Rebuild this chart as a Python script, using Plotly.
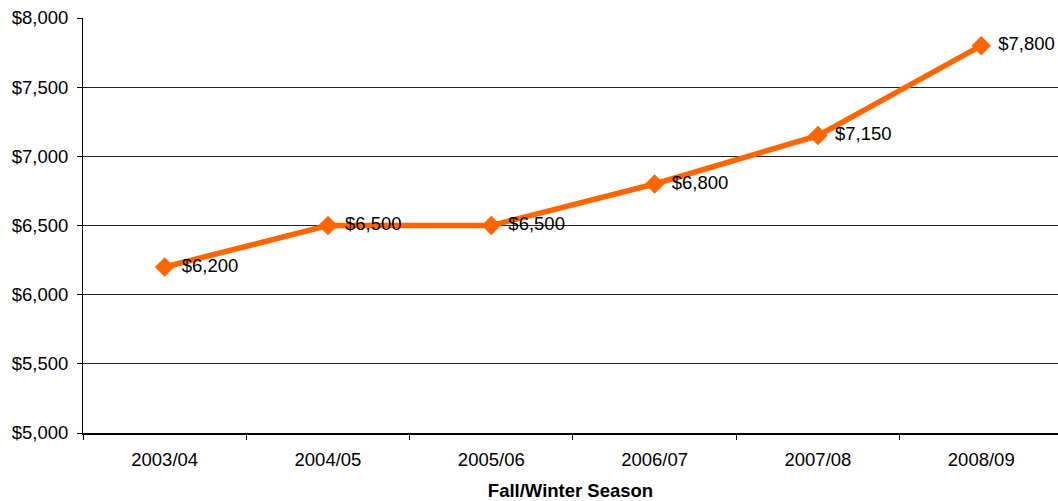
import plotly.graph_objects as go

seasons = ["2003/04", "2004/05", "2005/06", "2006/07", "2007/08", "2008/09"]
values = [6200, 6500, 6500, 6800, 7150, 7800]
labels = ["$6,200", "$6,500", "$6,500", "$6,800", "$7,150", "$7,800"]
y_ticks = [5000, 5500, 6000, 6500, 7000, 7500, 8000]
y_tick_text = ["$5,000", "$5,500", "$6,000", "$6,500", "$7,000", "$7,500", "$8,000"]

FONT = "Liberation Sans, Arial, sans-serif"
ORANGE = "#FF6600"
FS = 18.5

fig = go.Figure()
fig.add_trace(go.Scatter(
    x=list(range(len(seasons))), y=values,
    mode="lines+markers+text",
    line=dict(color=ORANGE, width=5.5),
    marker=dict(symbol="diamond", size=15, color=ORANGE),
    text=labels, texttemplate=" \u200a%{text}", textposition="middle right",
    textfont=dict(family=FONT, size=FS, color="#000000"),
    cliponaxis=False,
    hoverinfo="skip",
))

fig.update_layout(
    width=1058, height=501,
    margin=dict(l=83, r=0, t=18, b=68),
    paper_bgcolor="white", plot_bgcolor="white",
    showlegend=False,
    font=dict(family=FONT, size=FS, color="#000000"),
)

fig.update_xaxes(
    range=[-0.5, 5.47],
    tickmode="array",
    tickvals=[i - 0.5 for i in range(len(seasons) + 1)],
    ticktext=[""] * (len(seasons) + 1),
    ticks="outside", ticklen=5, tickcolor="#000000", tickwidth=1,
    showgrid=False, zeroline=False,
    showline=True, linecolor="#000000", linewidth=2,
    automargin=False,
)
fig.update_layout(xaxis2=dict(
    overlaying="x", anchor="y", side="bottom",
    range=[-0.5, 5.47],
    tickmode="array", tickvals=list(range(len(seasons))), ticktext=seasons,
    ticks="", showgrid=False, zeroline=False, showline=False,
    ticklabelstandoff=13,
    tickfont=dict(family=FONT, size=FS, color="#000000"),
    title=dict(text="<b>Fall/Winter Season</b>", font=dict(family=FONT, size=FS, color="#000000"), standoff=16),
    automargin=False,
))
fig.add_trace(go.Scatter(x=[0], y=[None], xaxis="x2", yaxis="y", showlegend=False, hoverinfo="skip"))

fig.update_yaxes(
    range=[5000, 8000],
    tickmode="array", tickvals=y_ticks, ticktext=y_tick_text,
    ticks="outside", ticklen=5, tickcolor="#000000",
    ticklabelstandoff=5,
    showgrid=True, gridcolor="#222222", gridwidth=1,
    zeroline=False,
    showline=True, linecolor="#000000", linewidth=1,
    tickfont=dict(family=FONT, size=FS, color="#000000"),
    automargin=False,
)

fig.write_html(
    "out.html",
    config={"displayModeBar": False},
    post_script="document.body.style.margin='0';document.body.style.overflow='hidden';",
)
